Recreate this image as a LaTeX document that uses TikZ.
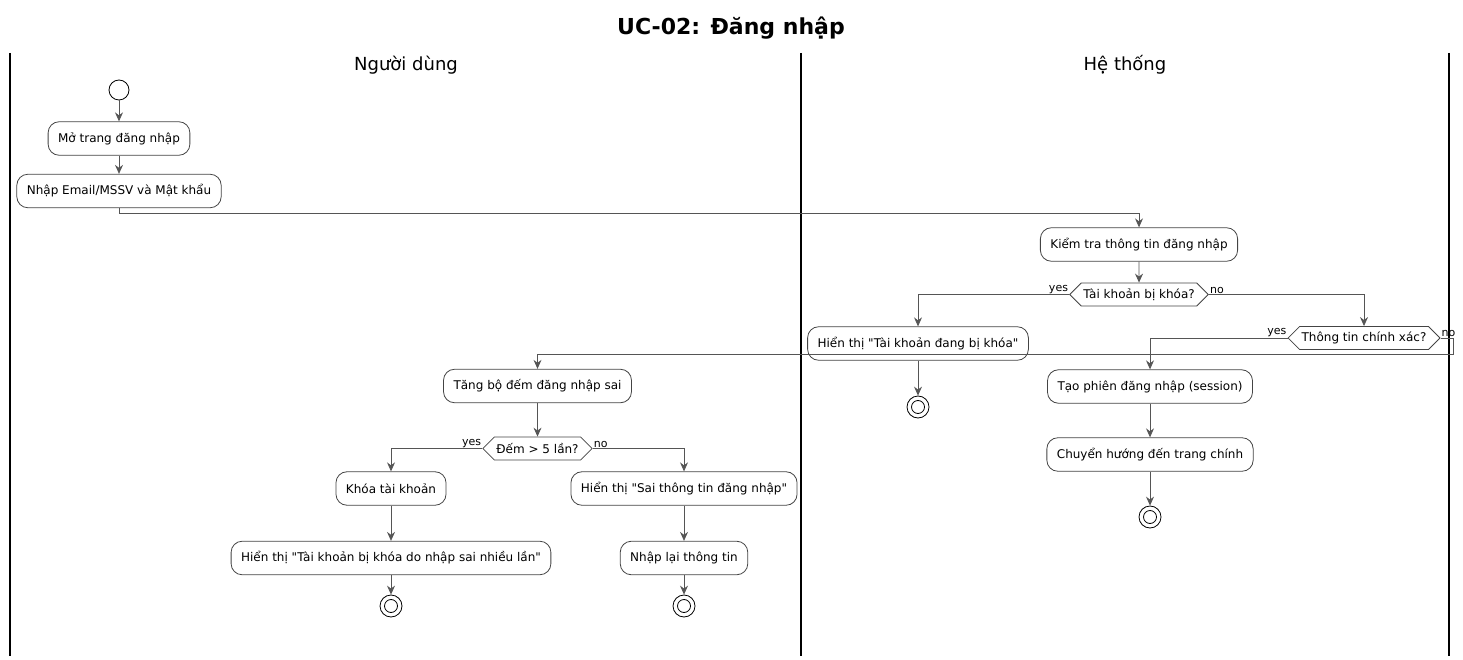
\documentclass[tikz,border=0pt]{standalone}
\usepackage{fontspec}
\setmainfont{DejaVu Sans}[Ligatures=TeXOff]
\usetikzlibrary{arrows.meta,shapes.symbols}
\definecolor{edgegray}{HTML}{555555}
\definecolor{boxgray}{HTML}{444444}

\begin{document}
\begin{tikzpicture}[x=1pt,y=-1pt,
  act/.style={draw=boxgray, fill=white, rounded corners=11pt, line width=0.8pt,
    minimum height=33.5pt, inner xsep=10pt, font=\fontsize{12}{14}\selectfont},
  choice/.style={signal, signal to=west and east, draw=boxgray, fill=white, line width=0.8pt,
    inner xsep=2pt, inner ysep=5.5pt, minimum height=23pt, font=\fontsize{12}{14}\selectfont},
  startnode/.style={circle, draw=black, fill=white, line width=0.8pt, minimum size=20pt, inner sep=0pt},
  stopnode/.style={circle, draw=black, fill=white, line width=0.8pt, minimum size=22pt, inner sep=0pt,
    path picture={\draw[line width=0.8pt] (path picture bounding box.center) circle (6.5pt);}},
  flow/.style={draw=edgegray, line width=0.8pt, -{Stealth[length=9pt,width=8pt,inset=3pt]}},
  lane/.style={draw=black, line width=1.3pt},
  guard/.style={font=\fontsize{11}{13}\selectfont, inner sep=1pt},
  lanehead/.style={font=\fontsize{18}{21}\selectfont},
  heading/.style={font=\fontsize{22}{26}\selectfont\bfseries}]
\useasboundingbox (0,0) rectangle (1463,660);
% Title and swimlanes
\node[heading] (title) at (731,28) {UC-02: Đăng nhập};
\draw[lane] (10,53) -- (10,656);
\draw[lane] (801,53) -- (801,656);
\draw[lane] (1449,53) -- (1449,656);
\node[lanehead] (laneU) at (406,65) {Người dùng};
\node[lanehead] (laneS) at (1125,65) {Hệ thống};
%
% User lane
\node[startnode] (start) at (119,90) {};
\node[act] (open) at (119,138.5) {Mở trang đăng nhập};
\node[act] (input) at (119,191) {Nhập Email/MSSV và Mật khẩu};
% System lane
\node[act] (check) at (1139,244.5) {Kiểm tra thông tin đăng nhập};
\node[choice] (locked) at (1139,294.5) {Tài khoản bị khóa?};
\node[act] (showlock) at (918,343.5) {Hiển thị "Tài khoản đang bị khóa"};
\node[stopnode] (stopA) at (918,407) {};
\node[choice] (valid) at (1364,338) {Thông tin chính xác?};
\node[act] (session) at (1150,386.5) {Tạo phiên đăng nhập (session)};
\node[act] (redirect) at (1150,454.5) {Chuyển hướng đến trang chính};
\node[stopnode] (stopB) at (1150,517) {};
% Wrong credentials
\node[act] (count) at (537.5,386) {Tăng bộ đếm đăng nhập sai};
\node[choice] (limit) at (537.5,448.5) {Đếm > 5 lần?};
\node[act] (lock) at (391,488.5) {Khóa tài khoản};
\node[act] (showmany) at (391,558) {Hiển thị "Tài khoản bị khóa do nhập sai nhiều lần"};
\node[stopnode] (stopC) at (391,606) {};
\node[act] (showwrong) at (684,488.5) {Hiển thị "Sai thông tin đăng nhập"};
\node[act] (retry) at (684,558) {Nhập lại thông tin};
\node[stopnode] (stopD) at (684,606) {};
%
% Guards
\node[guard, anchor=south east] (yesA) at (locked.west) {yes};
\node[guard, anchor=south west] (noA) at (locked.east) {no};
\node[guard, anchor=south east] (yesB) at (valid.west) {yes};
\node[guard, anchor=south west] (noB) at (valid.east) {no};
\node[guard, anchor=south east] (yesC) at (limit.west) {yes};
\node[guard, anchor=south west] (noC) at (limit.east) {no};
%
% Control flow
\draw[flow] (start) -- (open);
\draw[flow] (open) -- (input);
\draw[flow] (input.south) -- ++(0,5) -| (check.north);
\draw[flow] (check) -- (locked);
\draw[flow] (locked.west) -| (showlock.north);
\draw[flow] (showlock) -- (stopA);
\draw[flow] (locked.east) -| (valid.north);
\draw[flow] (valid.west) -| (session.north);
\coordinate (loopback) at (1453,354);
\draw[flow] (valid.east) -| (loopback) -| (count.north);
\draw[flow] (session) -- (redirect);
\draw[flow] (redirect) -- (stopB);
\draw[flow] (count) -- (limit);
\draw[flow] (limit.west) -| (lock.north);
\draw[flow] (lock) -- (showmany);
\draw[flow] (showmany) -- (stopC);
\draw[flow] (limit.east) -| (showwrong.north);
\draw[flow] (showwrong) -- (retry);
\draw[flow] (retry) -- (stopD);
\end{tikzpicture}
\end{document}
